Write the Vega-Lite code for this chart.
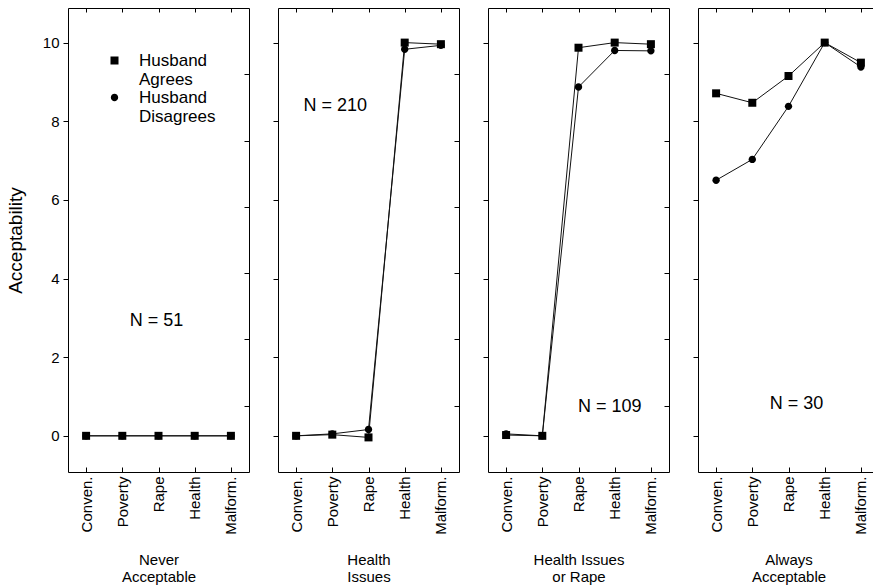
{
  "$schema": "https://vega.github.io/schema/vega-lite/v6.json",
  "padding": {"left": 5, "top": 7, "right": 0, "bottom": 0},
  "bounds": "flush",
  "spacing": 29,
  "datasets": {
    "main": [
      {"panel": "never", "series": "Husband Disagrees", "cond": "Conven.", "value": 0},
      {"panel": "never", "series": "Husband Disagrees", "cond": "Poverty", "value": 0},
      {"panel": "never", "series": "Husband Disagrees", "cond": "Rape", "value": 0},
      {"panel": "never", "series": "Husband Disagrees", "cond": "Health", "value": 0},
      {"panel": "never", "series": "Husband Disagrees", "cond": "Malform.", "value": 0},
      {"panel": "never", "series": "Husband Agrees", "cond": "Conven.", "value": 0},
      {"panel": "never", "series": "Husband Agrees", "cond": "Poverty", "value": 0},
      {"panel": "never", "series": "Husband Agrees", "cond": "Rape", "value": 0},
      {"panel": "never", "series": "Husband Agrees", "cond": "Health", "value": 0},
      {"panel": "never", "series": "Husband Agrees", "cond": "Malform.", "value": 0},
      {"panel": "health", "series": "Husband Disagrees", "cond": "Conven.", "value": 0.0},
      {"panel": "health", "series": "Husband Disagrees", "cond": "Poverty", "value": 0.05},
      {"panel": "health", "series": "Husband Disagrees", "cond": "Rape", "value": 0.16},
      {"panel": "health", "series": "Husband Disagrees", "cond": "Health", "value": 9.83},
      {"panel": "health", "series": "Husband Disagrees", "cond": "Malform.", "value": 9.93},
      {"panel": "health", "series": "Husband Agrees", "cond": "Conven.", "value": 0.0},
      {"panel": "health", "series": "Husband Agrees", "cond": "Poverty", "value": 0.03},
      {"panel": "health", "series": "Husband Agrees", "cond": "Rape", "value": -0.04},
      {"panel": "health", "series": "Husband Agrees", "cond": "Health", "value": 10.0},
      {"panel": "health", "series": "Husband Agrees", "cond": "Malform.", "value": 9.96},
      {"panel": "healthrape", "series": "Husband Disagrees", "cond": "Conven.", "value": 0.05},
      {"panel": "healthrape", "series": "Husband Disagrees", "cond": "Poverty", "value": 0.0},
      {"panel": "healthrape", "series": "Husband Disagrees", "cond": "Rape", "value": 8.87},
      {"panel": "healthrape", "series": "Husband Disagrees", "cond": "Health", "value": 9.8},
      {"panel": "healthrape", "series": "Husband Disagrees", "cond": "Malform.", "value": 9.79},
      {"panel": "healthrape", "series": "Husband Agrees", "cond": "Conven.", "value": 0.02},
      {"panel": "healthrape", "series": "Husband Agrees", "cond": "Poverty", "value": 0.0},
      {"panel": "healthrape", "series": "Husband Agrees", "cond": "Rape", "value": 9.87},
      {"panel": "healthrape", "series": "Husband Agrees", "cond": "Health", "value": 10.0},
      {"panel": "healthrape", "series": "Husband Agrees", "cond": "Malform.", "value": 9.96},
      {"panel": "always", "series": "Husband Disagrees", "cond": "Conven.", "value": 6.5},
      {"panel": "always", "series": "Husband Disagrees", "cond": "Poverty", "value": 7.03},
      {"panel": "always", "series": "Husband Disagrees", "cond": "Rape", "value": 8.38},
      {"panel": "always", "series": "Husband Disagrees", "cond": "Health", "value": 10.0},
      {"panel": "always", "series": "Husband Disagrees", "cond": "Malform.", "value": 9.38},
      {"panel": "always", "series": "Husband Agrees", "cond": "Conven.", "value": 8.71},
      {"panel": "always", "series": "Husband Agrees", "cond": "Poverty", "value": 8.47},
      {"panel": "always", "series": "Husband Agrees", "cond": "Rape", "value": 9.15},
      {"panel": "always", "series": "Husband Agrees", "cond": "Health", "value": 10.0},
      {"panel": "always", "series": "Husband Agrees", "cond": "Malform.", "value": 9.49}
    ],
    "notes": [
      {"panel": "never", "cond": "Rape", "value": 2.93, "label": "N = 51"},
      {"panel": "health", "cond": "Poverty", "value": 8.4, "label": "N = 210"},
      {"panel": "healthrape", "cond": "Health", "value": 0.74, "label": "N = 109"},
      {"panel": "always", "cond": "Rape", "value": 0.81, "label": "N = 30"}
    ]
  },
  "data": {"name": "main"},
  "resolve": {"scale": {"shape": "independent"}, "legend": {"shape": "independent"}},
  "hconcat": [
    {
      "width": 181, "height": 464,
      "layer": [
        {
          "transform": [{"filter": "datum.panel == 'never'"}],
          "mark": {"type": "line", "color": "#111", "strokeWidth": 1},
          "encoding": {
            "x": {"field": "cond", "type": "ordinal", "sort": ["Conven.", "Poverty", "Rape", "Health", "Malform."], "scale": {"type": "point", "padding": 0.5, "domain": ["Conven.", "Poverty", "Rape", "Health", "Malform."]},
                  "axis": {"orient": "bottom", "labelAngle": 270, "labelFontSize": 15, "tickSize": -5, "labelPadding": 9, "domain": false, "title": ["Never", "Acceptable"], "titleFontSize": 15, "titleFontWeight": "normal", "titlePadding": 18}},
            "y": {"field": "value", "type": "quantitative", "scale": {"domain": [-0.92, 10.88], "nice": false, "zero": false},
                  "axis": {"orient": "left", "values": [0, 2, 4, 6, 8, 10], "tickSize": 5, "labelFontSize": 15, "labelPadding": 4, "domain": false, "title": "Acceptability", "titleFontSize": 19, "titleFontWeight": "normal", "titlePadding": 17}},
            "detail": {"field": "series", "type": "nominal"}
          }
        },
        {
          "transform": [{"filter": "datum.panel == 'never'"}],
          "mark": {"type": "point", "filled": true, "fill": "#000", "stroke": "#000", "strokeWidth": 1, "opacity": 0, "size": 64},
          "encoding": {
            "x": {"field": "cond", "type": "ordinal", "sort": ["Conven.", "Poverty", "Rape", "Health", "Malform."], "scale": {"type": "point", "padding": 0.5, "domain": ["Conven.", "Poverty", "Rape", "Health", "Malform."]}, "axis": null},
            "y": {"field": "value", "type": "quantitative", "scale": {"domain": [-0.92, 10.88], "nice": false, "zero": false}, "axis": null},
            "shape": {"field": "series", "type": "nominal", "scale": {"domain": ["Husband Agrees", "Husband Disagrees"], "range": ["M-3.4,0H-1M1,0H3.4M-1,-1H1V1H-1Z", "M-3.4,0H-0.92M0.92,0H3.4M0.92,0A0.92,0.92,0,1,1,-0.92,0A0.92,0.92,0,1,1,0.92,0Z"]},
                      "legend": {"orient": "none", "legendX": 38, "legendY": 44, "title": null, "padding": 0, "labelFontSize": 17, "labelColor": "#000", "labelExpr": "split(datum.label, ' ')", "symbolSize": 64, "symbolOpacity": 1, "symbolFillColor": "#000", "symbolStrokeColor": "#000", "symbolStrokeWidth": 1, "labelOffset": 16, "rowPadding": 0}}
          }
        },
        {
          "transform": [{"filter": "datum.panel == 'never'"}],
          "mark": {"type": "point", "filled": true, "color": "#000", "opacity": 1, "size": 64},
          "encoding": {
            "x": {"field": "cond", "type": "ordinal", "sort": ["Conven.", "Poverty", "Rape", "Health", "Malform."], "scale": {"type": "point", "padding": 0.5, "domain": ["Conven.", "Poverty", "Rape", "Health", "Malform."]}, "axis": null},
            "y": {"field": "value", "type": "quantitative", "scale": {"domain": [-0.92, 10.88], "nice": false, "zero": false}, "axis": null},
            "shape": {"field": "series", "type": "nominal", "scale": {"domain": ["Husband Agrees", "Husband Disagrees"], "range": ["square", "M0.92,0A0.92,0.92,0,1,1,-0.92,0A0.92,0.92,0,1,1,0.92,0Z"]}, "legend": null}
          }
        },
        {
          "data": {"name": "notes"},
          "transform": [{"filter": "datum.panel == 'never'"}],
          "mark": {"type": "text", "fontSize": 18, "color": "#000", "dx": -2},
          "encoding": {
            "x": {"field": "cond", "type": "ordinal", "scale": {"type": "point", "padding": 0.5, "domain": ["Conven.", "Poverty", "Rape", "Health", "Malform."]}, "axis": {"orient": "top", "tickSize": -4, "labels": false, "domain": false, "title": null}},
            "y": {"field": "value", "type": "quantitative", "scale": {"domain": [-0.92, 10.88], "nice": false, "zero": false}, "axis": {"orient": "right", "values": [0.766, 2.452, 4.138, 5.824, 7.51, 9.196], "tickSize": -5, "labels": false, "domain": false, "title": null}},
            "text": {"field": "label"}
          }
        }
      ],
      "resolve": {"axis": {"x": "independent", "y": "independent"}, "scale": {"shape": "independent"}, "legend": {"shape": "independent"}}
    },
    {
      "width": 181, "height": 464,
      "layer": [
        {
          "transform": [{"filter": "datum.panel == 'health'"}],
          "mark": {"type": "line", "color": "#111", "strokeWidth": 1},
          "encoding": {
            "x": {"field": "cond", "type": "ordinal", "sort": ["Conven.", "Poverty", "Rape", "Health", "Malform."], "scale": {"type": "point", "padding": 0.5, "domain": ["Conven.", "Poverty", "Rape", "Health", "Malform."]},
                  "axis": {"orient": "bottom", "labelAngle": 270, "labelFontSize": 15, "tickSize": -5, "labelPadding": 9, "domain": false, "title": ["Health", "Issues"], "titleFontSize": 15, "titleFontWeight": "normal", "titlePadding": 18}},
            "y": {"field": "value", "type": "quantitative", "scale": {"domain": [-0.92, 10.88], "nice": false, "zero": false},
                  "axis": {"orient": "left", "values": [0, 2, 4, 6, 8, 10], "tickSize": 5, "labels": false, "domain": false, "title": null}},
            "detail": {"field": "series", "type": "nominal"}
          }
        },
        {
          "transform": [{"filter": "datum.panel == 'health'"}],
          "mark": {"type": "point", "filled": true, "color": "#000", "opacity": 1, "size": 64},
          "encoding": {
            "x": {"field": "cond", "type": "ordinal", "sort": ["Conven.", "Poverty", "Rape", "Health", "Malform."], "scale": {"type": "point", "padding": 0.5, "domain": ["Conven.", "Poverty", "Rape", "Health", "Malform."]}, "axis": null},
            "y": {"field": "value", "type": "quantitative", "scale": {"domain": [-0.92, 10.88], "nice": false, "zero": false}, "axis": null},
            "shape": {"field": "series", "type": "nominal", "scale": {"domain": ["Husband Agrees", "Husband Disagrees"], "range": ["square", "M0.92,0A0.92,0.92,0,1,1,-0.92,0A0.92,0.92,0,1,1,0.92,0Z"]}, "legend": null}
          }
        },
        {
          "data": {"name": "notes"},
          "transform": [{"filter": "datum.panel == 'health'"}],
          "mark": {"type": "text", "fontSize": 18, "color": "#000", "dx": 3},
          "encoding": {
            "x": {"field": "cond", "type": "ordinal", "scale": {"type": "point", "padding": 0.5, "domain": ["Conven.", "Poverty", "Rape", "Health", "Malform."]}, "axis": {"orient": "top", "tickSize": -4, "labels": false, "domain": false, "title": null}},
            "y": {"field": "value", "type": "quantitative", "scale": {"domain": [-0.92, 10.88], "nice": false, "zero": false}, "axis": {"orient": "right", "values": [0.766, 2.452, 4.138, 5.824, 7.51, 9.196], "tickSize": -5, "labels": false, "domain": false, "title": null}},
            "text": {"field": "label"}
          }
        }
      ],
      "resolve": {"axis": {"x": "independent", "y": "independent"}}
    },
    {
      "width": 181, "height": 464,
      "layer": [
        {
          "transform": [{"filter": "datum.panel == 'healthrape'"}],
          "mark": {"type": "line", "color": "#111", "strokeWidth": 1},
          "encoding": {
            "x": {"field": "cond", "type": "ordinal", "sort": ["Conven.", "Poverty", "Rape", "Health", "Malform."], "scale": {"type": "point", "padding": 0.5, "domain": ["Conven.", "Poverty", "Rape", "Health", "Malform."]},
                  "axis": {"orient": "bottom", "labelAngle": 270, "labelFontSize": 15, "tickSize": -5, "labelPadding": 9, "domain": false, "title": ["Health Issues", "or Rape"], "titleFontSize": 15, "titleFontWeight": "normal", "titlePadding": 18}},
            "y": {"field": "value", "type": "quantitative", "scale": {"domain": [-0.92, 10.88], "nice": false, "zero": false},
                  "axis": {"orient": "left", "values": [0, 2, 4, 6, 8, 10], "tickSize": 5, "labels": false, "domain": false, "title": null}},
            "detail": {"field": "series", "type": "nominal"}
          }
        },
        {
          "transform": [{"filter": "datum.panel == 'healthrape'"}],
          "mark": {"type": "point", "filled": true, "color": "#000", "opacity": 1, "size": 64},
          "encoding": {
            "x": {"field": "cond", "type": "ordinal", "sort": ["Conven.", "Poverty", "Rape", "Health", "Malform."], "scale": {"type": "point", "padding": 0.5, "domain": ["Conven.", "Poverty", "Rape", "Health", "Malform."]}, "axis": null},
            "y": {"field": "value", "type": "quantitative", "scale": {"domain": [-0.92, 10.88], "nice": false, "zero": false}, "axis": null},
            "shape": {"field": "series", "type": "nominal", "scale": {"domain": ["Husband Agrees", "Husband Disagrees"], "range": ["square", "M0.92,0A0.92,0.92,0,1,1,-0.92,0A0.92,0.92,0,1,1,0.92,0Z"]}, "legend": null}
          }
        },
        {
          "data": {"name": "notes"},
          "transform": [{"filter": "datum.panel == 'healthrape'"}],
          "mark": {"type": "text", "fontSize": 18, "color": "#000", "dx": -5},
          "encoding": {
            "x": {"field": "cond", "type": "ordinal", "scale": {"type": "point", "padding": 0.5, "domain": ["Conven.", "Poverty", "Rape", "Health", "Malform."]}, "axis": {"orient": "top", "tickSize": -4, "labels": false, "domain": false, "title": null}},
            "y": {"field": "value", "type": "quantitative", "scale": {"domain": [-0.92, 10.88], "nice": false, "zero": false}, "axis": {"orient": "right", "values": [0.766, 2.452, 4.138, 5.824, 7.51, 9.196], "tickSize": -5, "labels": false, "domain": false, "title": null}},
            "text": {"field": "label"}
          }
        }
      ],
      "resolve": {"axis": {"x": "independent", "y": "independent"}}
    },
    {
      "width": 181, "height": 464,
      "layer": [
        {
          "transform": [{"filter": "datum.panel == 'always'"}],
          "mark": {"type": "line", "color": "#111", "strokeWidth": 1},
          "encoding": {
            "x": {"field": "cond", "type": "ordinal", "sort": ["Conven.", "Poverty", "Rape", "Health", "Malform."], "scale": {"type": "point", "padding": 0.5, "domain": ["Conven.", "Poverty", "Rape", "Health", "Malform."]},
                  "axis": {"orient": "bottom", "labelAngle": 270, "labelFontSize": 15, "tickSize": -5, "labelPadding": 9, "domain": false, "title": ["Always", "Acceptable"], "titleFontSize": 15, "titleFontWeight": "normal", "titlePadding": 18}},
            "y": {"field": "value", "type": "quantitative", "scale": {"domain": [-0.92, 10.88], "nice": false, "zero": false},
                  "axis": {"orient": "left", "values": [0, 2, 4, 6, 8, 10], "tickSize": 5, "labels": false, "domain": false, "title": null}},
            "detail": {"field": "series", "type": "nominal"}
          }
        },
        {
          "transform": [{"filter": "datum.panel == 'always'"}],
          "mark": {"type": "point", "filled": true, "color": "#000", "opacity": 1, "size": 64},
          "encoding": {
            "x": {"field": "cond", "type": "ordinal", "sort": ["Conven.", "Poverty", "Rape", "Health", "Malform."], "scale": {"type": "point", "padding": 0.5, "domain": ["Conven.", "Poverty", "Rape", "Health", "Malform."]}, "axis": null},
            "y": {"field": "value", "type": "quantitative", "scale": {"domain": [-0.92, 10.88], "nice": false, "zero": false}, "axis": null},
            "shape": {"field": "series", "type": "nominal", "scale": {"domain": ["Husband Agrees", "Husband Disagrees"], "range": ["square", "M0.92,0A0.92,0.92,0,1,1,-0.92,0A0.92,0.92,0,1,1,0.92,0Z"]}, "legend": null}
          }
        },
        {
          "data": {"name": "notes"},
          "transform": [{"filter": "datum.panel == 'always'"}],
          "mark": {"type": "text", "fontSize": 18, "color": "#000", "dx": 8},
          "encoding": {
            "x": {"field": "cond", "type": "ordinal", "scale": {"type": "point", "padding": 0.5, "domain": ["Conven.", "Poverty", "Rape", "Health", "Malform."]}, "axis": {"orient": "top", "tickSize": -4, "labels": false, "domain": false, "title": null}},
            "y": {"field": "value", "type": "quantitative", "scale": {"domain": [-0.92, 10.88], "nice": false, "zero": false}, "axis": {"orient": "right", "values": [0.766, 2.452, 4.138, 5.824, 7.51, 9.196], "tickSize": -5, "labels": false, "domain": false, "title": null}},
            "text": {"field": "label"}
          }
        }
      ],
      "resolve": {"axis": {"x": "independent", "y": "independent"}}
    }
  ],
  "config": {
    "font": "Liberation Sans",
    "view": {"stroke": "#000", "strokeWidth": 1},
    "axis": {"grid": false, "labelColor": "#000", "titleColor": "#000", "tickColor": "#000", "labelFont": "Liberation Sans", "titleFont": "Liberation Sans"},
    "legend": {"labelFont": "Liberation Sans"}
  }
}
